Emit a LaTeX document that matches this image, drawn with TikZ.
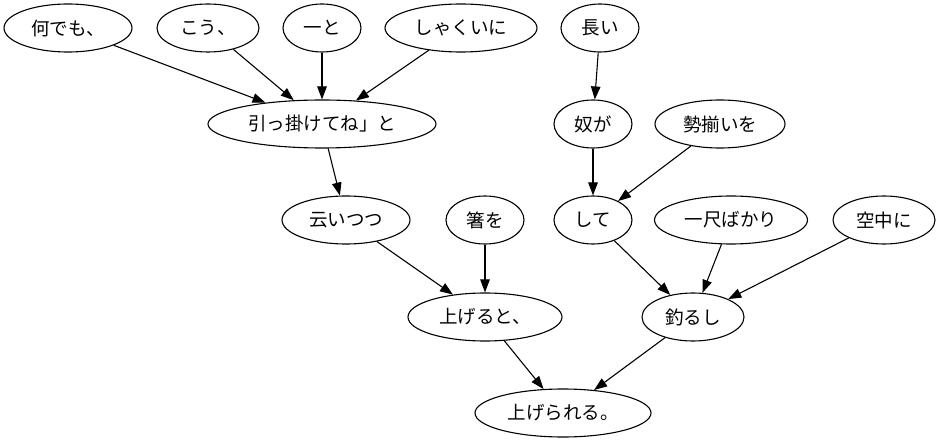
\documentclass[tikz,border=0pt]{standalone}
\usepackage{fontspec}
\setmainfont{Noto Sans CJK JP}
\usetikzlibrary{shapes.geometric,arrows.meta}
\begin{document}
\begin{tikzpicture}[x=1pt,y=-1pt,
  word/.style={ellipse,draw,line width=1.1pt,inner sep=0pt,minimum height=48pt,
    font=\fontsize{18.5}{20}\selectfont},
  link/.style={draw,line width=1.1pt,-{Triangle[length=13pt,width=9.5pt]}}]
\useasboundingbox (0,0) rectangle (941,443);
% top row
\node[word,minimum width=128pt] (n1) at (68,28) {何でも、};
\node[word,minimum width=102pt] (n2) at (208,28) {こう、};
\node[word,minimum width=78pt] (n3) at (322,28) {一と};
\node[word,minimum width=152pt] (n4) at (461,28) {しゃくいに};
\node[word,minimum width=78pt] (n5) at (600,28) {長い};
% second row
\node[word,minimum width=228pt] (n6) at (322,124) {引っ掛けてね」と};
\node[word,minimum width=78pt] (n7) at (593,124) {奴が};
\node[word,minimum width=130pt] (n8) at (720,124) {勢揃いを};
% third row
\node[word,minimum width=128pt] (n9) at (346,220) {云いつつ};
\node[word,minimum width=78pt] (n10) at (485,220) {箸を};
\node[word,minimum width=78pt] (n11) at (593,220) {して};
\node[word,minimum width=153pt] (n12) at (731,220) {一尺ばかり};
\node[word,minimum width=102pt] (n13) at (884,220) {空中に};
% fourth row
\node[word,minimum width=154pt] (n14) at (485,317) {上げると、};
\node[word,minimum width=102pt] (n15) at (693,317) {釣るし};
% root
\node[word,minimum width=176pt] (n16) at (563,413) {上げられる。};
% dependencies
\draw[link] (n1) -- (n6);
\draw[link] (n2) -- (n6);
\draw[link] (n3) -- (n6);
\draw[link] (n4) -- (n6);
\draw[link] (n5) -- (n7);
\draw[link] (n6) -- (n9);
\draw[link] (n7) -- (n11);
\draw[link] (n8) -- (n11);
\draw[link] (n9) -- (n14);
\draw[link] (n10) -- (n14);
\draw[link] (n11) -- (n15);
\draw[link] (n12) -- (n15);
\draw[link] (n13) -- (n15);
\draw[link] (n14) -- (n16);
\draw[link] (n15) -- (n16);
\end{tikzpicture}
\end{document}
